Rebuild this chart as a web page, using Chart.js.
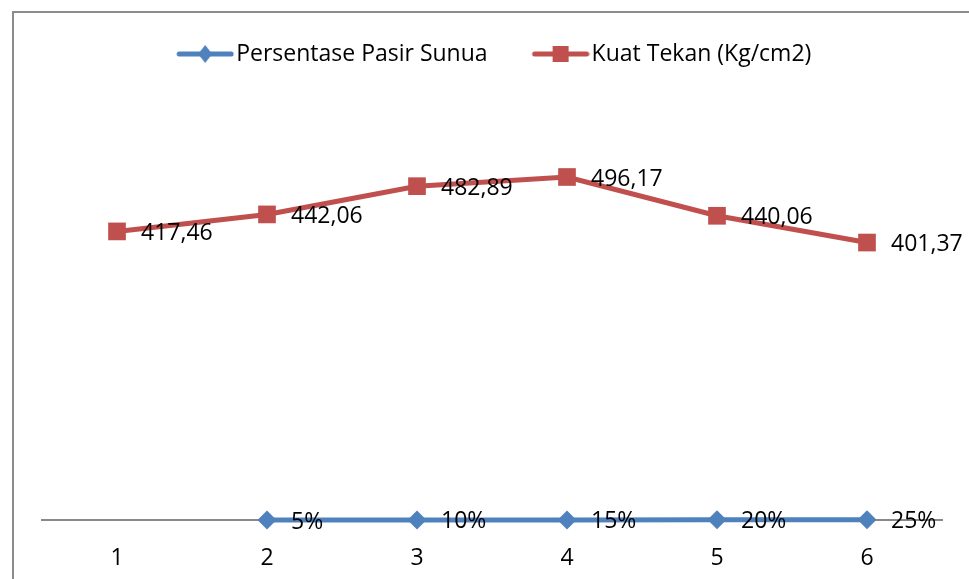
<!DOCTYPE html>
<html>
<head>
<meta charset="utf-8">
<script src="https://cdn.jsdelivr.net/npm/chart.js@4"></script>
<style>
  html, body { margin: 0; padding: 0; background: #fff; overflow: hidden; }
  /* cadre gris autour du graphique (coupé à droite et en bas comme dans l'original) */
  #frame { position: absolute; left: 12px; top: 11px; width: 1200px; height: 800px; border: 2px solid #8c8c8c; }
  #wrap { position: absolute; left: 0; top: 0; width: 969px; height: 579px; }
</style>
</head>
<body>
<div id="frame"></div>
<div id="wrap"><canvas id="chart"></canvas></div>
<script>
// -------------------------------
// DONNEES
// -------------------------------
const categories = ['1', '2', '3', '4', '5', '6'];
const persentasePasir = [null, 0.05, 0.10, 0.15, 0.20, 0.25];
const kuatTekan = [417.46, 442.06, 482.89, 496.17, 440.06, 401.37];
const seriesNames = ['Persentase Pasir Sunua', 'Kuat Tekan (Kg/cm2)'];

const BLUE = '#4f81bd';
const RED = '#c0504d';

Chart.defaults.font.family = '"Open Sans", sans-serif';
Chart.defaults.color = '#000';

// légende : ligne + marqueur, dessinés dans la partie droite de l'image
const LEG_BOX = 64;
const LEG_IMG = LEG_BOX + 19;
function legendMarker(color, shape) {
    const c = document.createElement('canvas');
    c.width = LEG_IMG;
    c.height = 20;
    const g = c.getContext('2d');
    const x0 = LEG_IMG - 58;
    g.strokeStyle = color;
    g.fillStyle = color;
    g.lineWidth = 5;
    g.lineCap = 'round';
    g.beginPath();
    g.moveTo(x0 + 3, 10);
    g.lineTo(x0 + 55, 10);
    g.stroke();
    if (shape === 'diamond') {
        g.beginPath();
        g.moveTo(x0 + 29, 1);
        g.lineTo(x0 + 36, 10);
        g.lineTo(x0 + 29, 19);
        g.lineTo(x0 + 22, 10);
        g.closePath();
        g.fill();
    } else {
        g.fillRect(x0 + 21, 2, 16, 16);
    }
    return c;
}
const markers = [legendMarker(BLUE, 'diamond'), legendMarker(RED, 'square')];

// formats des étiquettes de valeur
const formatters = [
    v => Math.round(v * 100) + '%',
    v => v.toFixed(2).replace('.', ',')
];

// étiquettes à droite de chaque point
const valueLabels = {
    id: 'valueLabels',
    afterDatasetsDraw(chart) {
        const ctx = chart.ctx;
        ctx.save();
        ctx.font = '23px "Open Sans"';
        ctx.fillStyle = '#000';
        ctx.textAlign = 'left';
        ctx.textBaseline = 'middle';
        chart.data.datasets.forEach((ds, i) => {
            chart.getDatasetMeta(i).data.forEach((pt, j) => {
                const v = ds.data[j];
                if (v == null) return;
                ctx.fillText(formatters[i](v), pt.x + 24, pt.y + 2);
            });
        });
        ctx.restore();
    }
};

// petit décalage de la légende vers la gauche
const legendShift = {
    id: 'legendShift',
    afterLayout(chart) {
        chart.legend.left -= 6;
        chart.legend.right -= 6;
    }
};

new Chart(document.getElementById('chart'), {
    type: 'line',
    data: {
        labels: categories,
        datasets: [
            {
                label: seriesNames[0],
                data: persentasePasir,
                borderColor: BLUE,
                backgroundColor: BLUE,
                borderWidth: 5,
                pointStyle: 'rectRot',
                pointRadius: 9.5,
                pointBorderWidth: 0,
                tension: 0,
                clip: false
            },
            {
                label: seriesNames[1],
                data: kuatTekan,
                borderColor: RED,
                backgroundColor: RED,
                borderWidth: 5,
                pointStyle: 'rect',
                pointRadius: 12.5,
                pointBorderWidth: 0,
                tension: 0,
                clip: false
            }
        ]
    },
    options: {
        responsive: true,
        maintainAspectRatio: false,
        animation: false,
        layout: { padding: { top: 14, left: 42, right: 27, bottom: 0 } },
        plugins: {
            tooltip: { enabled: false },
            legend: {
                position: 'top',
                labels: {
                    usePointStyle: true,
                    pointStyleWidth: LEG_BOX,
                    boxHeight: 20,
                    padding: 28.5,
                    font: { size: 23 },
                    color: '#000',
                    generateLabels(chart) {
                        const items = Chart.defaults.plugins.legend.labels.generateLabels(chart);
                        items.forEach((it, i) => { it.pointStyle = markers[i]; });
                        return items;
                    }
                }
            }
        },
        scales: {
            x: {
                offset: true,
                grid: { display: false, drawTicks: false },
                border: { display: true, color: '#888888', width: 2 },
                ticks: { font: { size: 23 }, padding: 25, color: '#000' },
                afterFit(scale) { scale.height = 59; }
            },
            y: {
                display: false,
                min: 0,
                max: 643
            }
        }
    },
    plugins: [valueLabels, legendShift]
});
</script>
</body>
</html>
